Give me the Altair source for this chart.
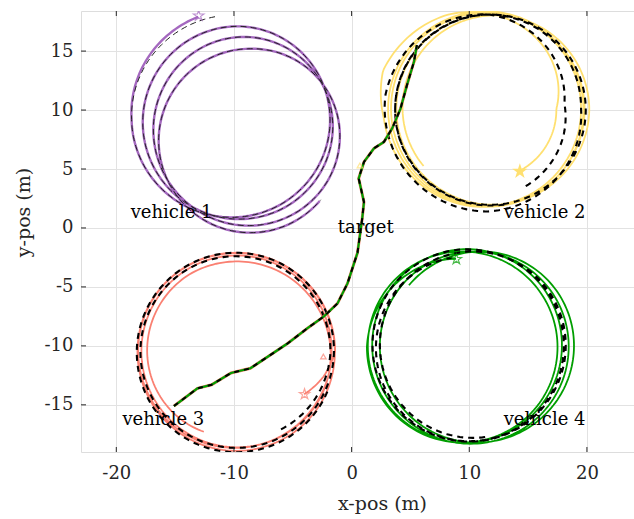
import numpy as np
import pandas as pd
import altair as alt

# ---- loop keyframes (angle deg, centre x, centre y, radius)
v1_ang = [107, 180, 450, 810, 1170, 1400]
v1_cx = [-10.4, -10.5, -9.8, -9.3, -8.6, -8.6]
v1_cy = [9.3, 9.2, 8.9, 8.5, 7.4, 7.4]
v1_r = [9.0, 8.2, 8.2, 7.7, 7.8, 7.8]

d1_ang = [98, 180, 450, 810, 1170, 1400]
d1_cx = [-10.4, -10.5, -9.8, -9.3, -8.6, -8.6]
d1_cy = [9.3, 9.2, 8.9, 8.5, 7.4, 7.4]
d1_r = [8.7, 8.2, 8.2, 7.7, 7.8, 7.8]

v2_ang = [-63, 0, 45, 114, 160, 185, 270, 360, 720, 1080, 1440, 1659]
v2_cx = [11.6, 11.6, 11.6, 11.6, 11.6, 11.6, 11.6, 11.4, 11.3, 11.7, 12.1, 12.1]
v2_cy = [10.1, 10.1, 10.1, 10.1, 10.1, 10.1, 10.1, 10.1, 10.1, 10.0, 10.1, 10.1]
v2_r = [5.9, 5.8, 7.0, 8.7, 9.5, 8.9, 8.3, 8.3, 8.2, 8.1, 8.1, 7.7]

d2_ang = [-64, -20, 4, 34, 90, 126, 172, 270, 360, 450, 720, 1000]
d2_cx = [11.6, 11.6, 11.6, 11.6, 11.6, 11.6, 11.6, 11.6, 11.6, 11.7, 11.8, 11.8]
d2_cy = [10.1, 10.1, 10.1, 10.1, 10.1, 10.1, 10.1, 10.1, 10.1, 10.1, 10.0, 10.0]
d2_r = [7.3, 6.8, 6.5, 7.0, 8.0, 8.3, 8.8, 8.7, 7.9, 8.0, 8.1, 8.1]

v3_ang = [-32, -16, 0, 90, 330, 690, 1050, 1200, 1328]
v3_cx = [-9.8, -9.8, -9.8, -9.8, -9.8, -9.9, -9.7, -9.9, -9.9]
v3_cy = [-10.5, -10.5, -10.5, -10.5, -10.5, -10.4, -10.6, -10.7, -10.7]
v3_r = [6.8, 7.7, 8.4, 8.4, 8.4, 8.2, 8.0, 7.8, 7.1]

d3_ang = [-60, 0, 360, 700]
d3_cx = [-9.8, -9.8, -9.8, -9.9]
d3_cy = [-10.5, -10.5, -10.4, -10.6]
d3_r = [7.6, 8.0, 8.3, 8.5]

v4_ang = [94, 180, 450, 810, 1170, 1530, 1580]
v4_cx = [9.4, 9.4, 9.4, 9.8, 10.4, 11.0, 11.0]
v4_cy = [-10.1, -10.1, -10.1, -10.0, -10.2, -10.0, -10.0]
v4_r = [7.5, 8.1, 8.1, 8.2, 8.2, 8.0, 8.0]

d4_ang = [100, 460, 820, 1000]
d4_cx = [9.9, 9.9, 10.3, 10.3]
d4_cy = [-10.1, -10.1, -9.9, -9.9]
d4_r = [7.7, 8.3, 7.9, 7.9]

# target path
tgt_x = [-15.1, -13.1, -11.9, -10.25, -8.6, -7.1, -5.45, -3.75, -2.35, -1.2,
         -0.35, 0.5, 0.9, 1.05, 0.6, 1.05, 1.9, 2.75, 3.45, 4.15, 4.7, 5.3, 5.55]
tgt_y = [-15.1, -13.6, -13.3, -12.3, -11.9, -10.9, -9.8, -8.5, -7.5, -6.4,
         -4.7, -2.1, 0.8, 2.2, 4.2, 5.6, 6.75, 7.3, 8.45, 10.1, 12.1, 14.1, 15.5]

# start markers
star_series = ["vehicle 1", "vehicle 2", "vehicle 3", "vehicle 4"]
star_x = [-13.0, 14.3, -4.0, 8.9]
star_y = [18.0, 4.8, -14.1, -2.65]

# small extra markers (estimate starts)
mk_series = ["vehicle 2", "vehicle 3"]
mk_x = [0.7, -2.4]
mk_y = [5.3, -10.9]

# labels
lab_text = ["vehicle 1", "vehicle 2", "vehicle 3", "vehicle 4", "target"]
lab_x = [-15.3, 16.4, -16.0, 16.4, 1.2]
lab_y = [1.3, 1.3, -16.3, -16.3, 0.0]

x_ticks = [-20, -10, 0, 10, 20]
y_ticks = [-15, -10, -5, 0, 5, 10, 15]

colors = ["#A468BF", "#FFE070", "#FA8072", "#009E00"]


def path(name, ang, cx, cy, r, step=2.0):
    t = np.arange(ang[0], ang[-1] + 1e-6, step)
    c_x = np.interp(t, ang, cx)
    c_y = np.interp(t, ang, cy)
    rr = np.interp(t, ang, r)
    rad = np.deg2rad(t)
    return pd.DataFrame({"series": name, "i": np.arange(len(t)),
                         "x": c_x + rr * np.cos(rad), "y": c_y + rr * np.sin(rad)})


veh1 = path("vehicle 1", v1_ang, v1_cx, v1_cy, v1_r)
veh = pd.concat([
    path("vehicle 2", v2_ang, v2_cx, v2_cy, v2_r),
    path("vehicle 3", v3_ang, v3_cx, v3_cy, v3_r),
    path("vehicle 4", v4_ang, v4_cx, v4_cy, v4_r),
])
ref1 = path("ref 1", d1_ang, d1_cx, d1_cy, d1_r)
ref = pd.concat([
    path("ref 2", d2_ang, d2_cx, d2_cy, d2_r),
    path("ref 3", d3_ang, d3_cx, d3_cy, d3_r),
    path("ref 4", d4_ang, d4_cx, d4_cy, d4_r),
])
tgt = pd.DataFrame({"i": range(len(tgt_x)), "x": tgt_x, "y": tgt_y})
stars = pd.DataFrame({"series": star_series, "x": star_x, "y": star_y})
marks = pd.DataFrame({"series": mk_series, "x": mk_x, "y": mk_y})
labels = pd.DataFrame({"text": lab_text, "x": lab_x, "y": lab_y})

FONT = "DejaVu Serif"
TXT = "#262626"
xscale = alt.Scale(domain=[-23, 24], nice=False, zero=False)
yscale = alt.Scale(domain=[-19, 18.4], nice=False, zero=False)
xaxis = alt.Axis(values=x_ticks, labelExpr="'' + datum.value", domain=False, ticks=False,
                 grid=True, gridColor="#e2e2e2", gridWidth=1, labelFont=FONT, labelFontSize=18,
                 labelColor=TXT, labelPadding=12, title="x-pos (m)", titleFont=FONT,
                 titleFontSize=19, titleFontWeight="normal", titleColor=TXT,
                 titleX=301, titleY=51, titleBaseline="middle")
yaxis = alt.Axis(values=y_ticks, labelExpr="'' + datum.value", domain=False, ticks=False,
                 grid=True, gridColor="#e2e2e2", gridWidth=1, labelFont=FONT, labelFontSize=18,
                 labelColor=TXT, labelPadding=8, title="y-pos (m)", titleFont=FONT,
                 titleFontSize=19, titleFontWeight="normal", titleColor=TXT,
                 titleX=-58, titleY=201, titleBaseline="middle")
X = alt.X("x:Q", scale=xscale, axis=xaxis)
Y = alt.Y("y:Q", scale=yscale, axis=yaxis)
cscale = alt.Scale(domain=star_series, range=colors)

veh1_line = alt.Chart(veh1).mark_line(strokeWidth=2.4, clip=True).encode(
    x=X, y=Y, order="i:Q",
    color=alt.Color("series:N", scale=cscale, legend=None))
veh_lines = alt.Chart(veh).mark_line(strokeWidth=1.8, clip=True).encode(
    x=X, y=Y, order="i:Q",
    color=alt.Color("series:N", scale=cscale, legend=None))
ref1_line = alt.Chart(ref1).mark_line(color="#222222", strokeWidth=1.0, strokeDash=[6, 4],
                                      clip=True).encode(x=X, y=Y, order="i:Q")
ref_lines = alt.Chart(ref).mark_line(color="black", strokeWidth=2.1, strokeDash=[6, 5],
                                     clip=True).encode(
    x=X, y=Y, order="i:Q", detail="series:N")
tgt_s = alt.Chart(tgt).mark_line(color="#FA8072", strokeWidth=3, clip=True).encode(
    x=X, y=Y, order="i:Q")
tgt_g = alt.Chart(tgt).mark_line(color="#009E00", strokeWidth=2.2, clip=True).encode(
    x=X, y=Y, order="i:Q")
tgt_k = alt.Chart(tgt).mark_line(color="black", strokeWidth=2.0, strokeDash=[5, 5],
                                 clip=True).encode(x=X, y=Y, order="i:Q")

STAR = ("M0,-1L0.225,-0.309L0.951,-0.309L0.363,0.118L0.588,0.809L0,0.382"
        "L-0.588,0.809L-0.363,0.118L-0.951,-0.309L-0.225,-0.309Z")
star_hollow = alt.Chart(stars[stars.series != "vehicle 2"]).mark_point(
    shape=STAR, filled=False, strokeWidth=1.2, size=120, clip=True).encode(
    x=X, y=Y, color=alt.Color("series:N", scale=cscale, legend=None))
star_full = alt.Chart(stars[stars.series == "vehicle 2"]).mark_point(
    shape=STAR, filled=True, size=260, opacity=1, clip=True).encode(
    x=X, y=Y, color=alt.Color("series:N", scale=cscale, legend=None))
small_marks = alt.Chart(marks).mark_point(
    shape="triangle-up", filled=False, strokeWidth=1.2, size=30, clip=True).encode(
    x=X, y=Y, color=alt.Color("series:N", scale=cscale, legend=None))

text = alt.Chart(labels).mark_text(font=FONT, fontSize=18, color="black",
                                   baseline="middle", align="center").encode(
    x=X, y=Y, text="text:N")

xt = pd.DataFrame({"v": x_ticks})
yt = pd.DataFrame({"v": y_ticks})
tick_b = alt.Chart(xt).mark_rule(color=TXT).encode(
    x=alt.X("v:Q", scale=xscale, axis=xaxis), y=alt.value(441), y2=alt.value(436))
tick_t = alt.Chart(xt).mark_rule(color=TXT).encode(
    x=alt.X("v:Q", scale=xscale, axis=xaxis), y=alt.value(0), y2=alt.value(5))
tick_l = alt.Chart(yt).mark_rule(color=TXT).encode(
    y=alt.Y("v:Q", scale=yscale, axis=yaxis), x=alt.value(0), x2=alt.value(5))

chart = alt.layer(
    veh1_line, veh_lines, ref1_line, ref_lines, tgt_s, tgt_g, tgt_k, star_hollow, star_full,
    small_marks, text, tick_b, tick_t, tick_l
).properties(
    width=553, height=441,
    padding={"left": 81, "top": 11, "right": 0, "bottom": 67},
    autosize=alt.AutoSizeParams(type="none"),
).configure_view(stroke=TXT, strokeWidth=1).configure(background="white")

chart.save("out.html", embed_options={"renderer": "svg", "actions": False})
